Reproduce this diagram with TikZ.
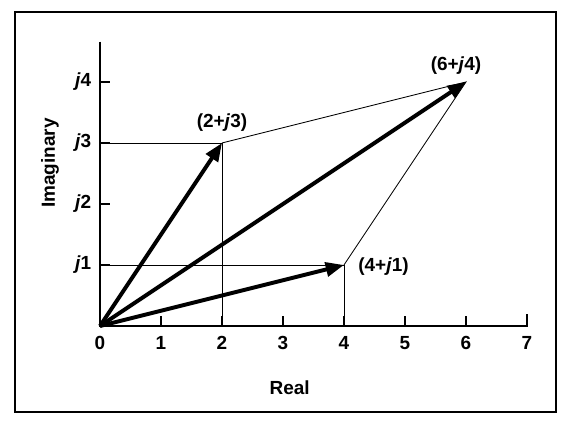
\documentclass[tikz,border=0pt]{standalone}
\usepackage{fontspec}
\setmainfont{Liberation Sans}
\usepackage{tikz}
\usetikzlibrary{arrows.meta,positioning}

\begin{document}
\begin{tikzpicture}[x=1.525cm,y=1.525cm,
  axisline/.style={line width=1.4pt},
  phasor/.style={-{Triangle[length=13pt,width=10pt]},line width=2.8pt},
  guide/.style={line width=0.6pt},
  lbl/.style={font=\fontsize{13.5}{15}\selectfont\bfseries,inner sep=1pt}]
\useasboundingbox (-1.639,-1.754) rectangle (7.705,5.344);
% frame
\draw[line width=1.4pt] (-1.39,-1.41) rectangle (7.47,5.15);
% axes
\coordinate (O) at (0,0);
\coordinate (xend) at (7,0);
\coordinate (yend) at (0,4.66);
\draw[axisline] (yend) -- (O) -- (xend) -- ++(0,0.2);
\foreach \k in {1,...,6}
  \draw[line width=1pt] (\k,0) -- (\k,0.16);
\foreach \k in {1,...,4}
  \draw[line width=1pt] (0,\k) -- (0.16,\k);
\foreach \k in {0,...,7}
  \node[lbl,below=6pt] (tx\k) at (\k,0) {\k};
\foreach \k in {1,...,4}
  \node[lbl,left=5pt] (ty\k) at (0,\k) {\textit{j}\k};
\node[lbl] (real) at (3.11,-1.02) {Real};
\node[lbl,rotate=90] (imag) at (-0.82,2.67) {Imaginary};
% points
\coordinate (p23) at (2,3);
\coordinate (p41) at (4,1);
\coordinate (p64) at (6,4);
\draw[guide] (p23 -| O) -- (p23) -- (p23 |- O);
\draw[guide] (p41 -| O) -- (p41) -- (p41 |- O);
\draw[guide] (p23) -- (p64) -- (p41);
\draw[phasor] (O) -- (p23);
\draw[phasor] (O) -- (p41);
\draw[phasor] (O) -- (p64);
\node[lbl,above=7pt] (l23) at (p23) {(2+\textit{j}3)};
\node[lbl,above left=4pt and -12pt] (l64) at (p64) {(6+\textit{j}4)};
\node[lbl,below right=-6pt and 9pt] (l41) at (p41) {(4+\textit{j}1)};
\end{tikzpicture}
\end{document}
